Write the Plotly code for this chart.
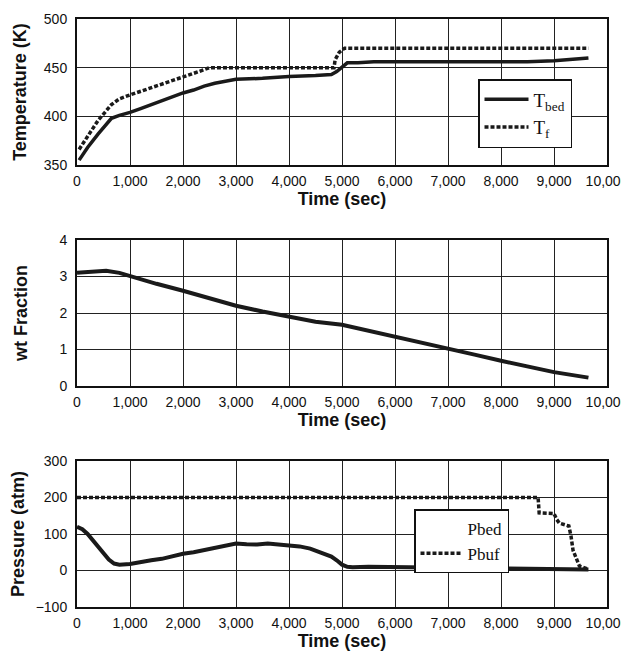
import plotly.graph_objects as go
from plotly.subplots import make_subplots

# ---------------- data ----------------
t_bed_time = [40, 200, 400, 650, 800, 1000, 1200, 1500, 1800, 2000, 2200, 2400, 2600, 2800,
              3000, 3500, 4000, 4500, 4800, 4900, 5000, 5100, 5300, 5600, 6000, 6500, 7000,
              7500, 8000, 8500, 9000, 9300, 9650]
t_bed = [355, 368, 382, 398, 401, 404, 408, 414, 420, 424, 427, 431, 434, 436,
         438, 439, 441, 442, 443, 446, 451, 455, 455, 456, 456, 456, 456,
         456, 456, 456, 457, 458, 460]

t_f_time = [40, 200, 400, 650, 800, 1000, 1500, 2000, 2300, 2500, 3000, 4000, 4850, 4870,
            4950, 5050, 6000, 8000, 9650]
t_f = [366, 380, 396, 412, 418, 422, 431, 440, 446, 450, 450, 450, 450, 458,
       466, 470, 470, 470, 470]

wt_time = [0, 300, 550, 800, 1000, 1500, 2000, 2500, 3000, 3500, 4000, 4500, 5000, 5500,
           6000, 6500, 7000, 7500, 8000, 8500, 9000, 9650]
wt_frac = [3.10, 3.12, 3.16, 3.10, 3.01, 2.80, 2.61, 2.40, 2.20, 2.04, 1.89, 1.76, 1.68, 1.52,
           1.35, 1.18, 1.02, 0.86, 0.69, 0.53, 0.38, 0.23]

p_bed_time = [0, 100, 200, 300, 400, 500, 600, 700, 800, 1000, 1200, 1400, 1600, 1800, 2000,
              2200, 2400, 2600, 2800, 3000, 3200, 3400, 3600, 3800, 4000, 4200, 4400, 4600,
              4800, 4900, 5000, 5100, 5200, 5500, 6000, 6500, 7000, 7500, 8000, 8500, 9000, 9650]
p_bed = [120, 113, 100, 82, 62, 45, 30, 19, 16, 18, 24, 28, 32, 40, 46,
         50, 56, 64, 70, 74, 72, 71, 74, 72, 68, 66, 60, 50,
         38, 28, 16, 10, 9, 10, 9, 9, 7, 6, 5, 5, 5, 3]

p_buf_time = [0, 8700, 8720, 9000, 9050, 9100, 9280, 9320, 9360, 9430, 9480, 9620]
p_buf = [200, 200, 158, 156, 140, 130, 122, 95, 55, 30, 12, 5]

x_ticks = [0, 1000, 2000, 3000, 4000, 5000, 6000, 7000, 8000, 9000, 10000]

# ---------------- figure ----------------
LINE = "#1a1a1a"
TICKFONT = dict(family="Liberation Sans, Arial", size=14, color="#111")
TITLEFONT = dict(family="Liberation Sans, Arial", size=18, color="#111", weight="bold")
LEGFONT = dict(family="Liberation Serif, Times New Roman, serif", size=19, color="#111")
LEGFONT3 = dict(family="Liberation Serif, Times New Roman, serif", size=17, color="#111")

fig = make_subplots(rows=3, cols=1, vertical_spacing=75 / 588)

fig.add_trace(go.Scatter(x=t_bed_time, y=t_bed, mode="lines", name="T<sub>bed</sub>",
                         line=dict(color=LINE, width=3.5), legend="legend"), row=1, col=1)
fig.add_trace(go.Scatter(x=t_f_time, y=t_f, mode="lines", name="T<sub>f</sub>",
                         line=dict(color=LINE, width=3.5, dash="4px,2px"), legend="legend"), row=1, col=1)

fig.add_trace(go.Scatter(x=wt_time, y=wt_frac, mode="lines", name="wt Fraction",
                         line=dict(color=LINE, width=4), showlegend=False), row=2, col=1)

fig.add_trace(go.Scatter(x=p_bed_time, y=p_bed, mode="lines", name="Pbed",
                         line=dict(color=LINE, width=4), showlegend=False), row=3, col=1)
# legend-only entry for Pbed (reference shows no sample line)
fig.add_trace(go.Scatter(x=[None], y=[None], mode="lines", name="Pbed",
                         line=dict(color="rgba(0,0,0,0)", width=0), legend="legend3"), row=3, col=1)
fig.add_trace(go.Scatter(x=p_buf_time, y=p_buf, mode="lines", name="Pbuf",
                         line=dict(color=LINE, width=3.5, dash="4px,2px"), legend="legend3"), row=3, col=1)

common_x = dict(range=[0, 10000], tickvals=x_ticks, tickformat=",d", showgrid=True,
                gridcolor="#222", gridwidth=1, showline=True, linecolor="#111", linewidth=2,
                mirror=True, ticks="", tickfont=TICKFONT, zeroline=False, automargin=False,
                ticklabeloverflow="allow", ticklabelstandoff=2,
                title=dict(text="Time (sec)", font=TITLEFONT, standoff=5))
for r in (1, 2, 3):
    fig.update_xaxes(row=r, col=1, **common_x)

common_y = dict(showgrid=True, gridcolor="#222", gridwidth=1, showline=True, linecolor="#111",
                linewidth=2, mirror=True, ticks="", tickfont=TICKFONT, zeroline=False,
                ticklabelstandoff=5, automargin=False)
fig.update_yaxes(row=1, col=1, range=[350, 500], dtick=50,
                 title=dict(text="Temperature (K)", font=TITLEFONT, standoff=13), **common_y)
fig.update_yaxes(row=2, col=1, range=[0, 4], dtick=1,
                 title=dict(text="wt Fraction", font=TITLEFONT, standoff=27), **common_y)
fig.update_yaxes(row=3, col=1, range=[-100, 300], dtick=100,
                 title=dict(text="Pressure (atm)", font=TITLEFONT, standoff=7), **common_y)

# page body adds an 8px margin, so the figure is 16px smaller and shifted accordingly
fig.update_layout(
    width=621, height=651,
    margin=dict(l=69, r=22, t=11, b=52, autoexpand=False),
    paper_bgcolor="white", plot_bgcolor="white",
    legend=dict(x=(478 - 77) / 530, y=1 - (79 - 19) / 588, xanchor="left", yanchor="top",
                bgcolor="white", bordercolor="#111", borderwidth=1.5, font=LEGFONT,
                itemwidth=44),
    legend3=dict(x=(414 - 77) / 530, y=1 - (509 - 19) / 588, xanchor="left", yanchor="top",
                 bgcolor="white", bordercolor="#111", borderwidth=1.5, font=LEGFONT3,
                 itemwidth=42),
)

fig.write_html("out.html")
